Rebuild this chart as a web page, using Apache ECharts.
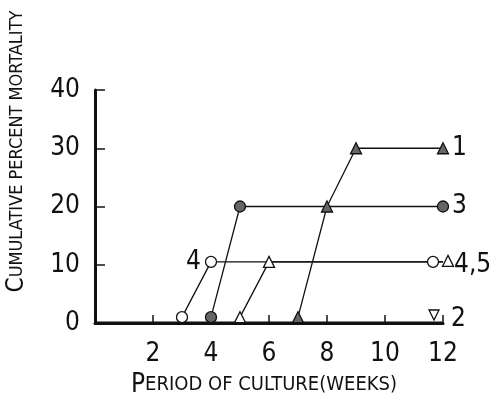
<!DOCTYPE html>
<html>
<head>
<meta charset="utf-8">
<script src="https://cdn.jsdelivr.net/npm/echarts@6/dist/echarts.min.js"></script>
<style>
html,body{margin:0;padding:0;background:#fff;}
#c{width:495px;height:393px;}
</style>
</head>
<body>
<div id="c"></div>
<script>
// ---- data ----
var xTicks = [2, 4, 6, 8, 10, 12];
var yTicks = [0, 10, 20, 30, 40];
var series1 = [[7, 1], [8, 20], [9, 30], [12, 30]];   // filled triangle
var series2 = [[0, 0], [12, 0]];                      // open down-triangle
var series3 = [[4, 1], [5, 20], [12, 20]];            // filled circle
var series4 = [[3, 1], [4, 10.5], [12, 10.5]];        // open circle
var series5 = [[5, 1], [6, 10.5], [12, 10.5]];        // open triangle
var seriesNames = ['1', '2', '3', '4', '5'];

var FONT = "'Liberation Sans Narrow','DejaVu Sans Condensed','DejaVu Sans',sans-serif";

var chart = echarts.init(document.getElementById('c'), null, {renderer: 'canvas'});

function lineSeries(name, data, symbol, fill, extra) {
  var s = {
    name: name,
    type: 'line',
    data: data,
    symbol: symbol,
    symbolSize: 11,
    showAllSymbol: true,
    lineStyle: {color: '#111', width: 1.3},
    itemStyle: {color: fill, borderColor: '#111', borderWidth: 1.3},
    emphasis: {disabled: true},
    animation: false,
    z: 3
  };
  for (var k in extra) s[k] = extra[k];
  return s;
}

var lastIdx = function (arr) { return arr.length - 1; };

var option = {
  animation: false,
  grid: {left: 95, right: 52, top: 90, bottom: 70, containLabel: false, outerBoundsMode: 'none'},
  xAxis: {
    type: 'value',
    min: 0, max: 12, interval: 2,
    axisLine: {show: true, onZero: false, lineStyle: {color: '#111', width: 3}},
    axisTick: {show: true, inside: true, length: 8, lineStyle: {color: '#111', width: 1.5}},
    axisLabel: {
      color: '#111', fontFamily: FONT, fontSize: 26, margin: 18,
      formatter: function (v) { return xTicks.indexOf(v) >= 0 ? String(v) : ''; }
    },
    splitLine: {show: false},
    name: '{a|P}{b|ERIOD OF CULTURE(WEEKS)}',
    nameLocation: 'middle',
    nameGap: 48,
    nameTextStyle: {
      padding: [0, 10, 0, 0],
      rich: {
        a: {fontFamily: FONT, fontSize: 26, color: '#111'},
        b: {fontFamily: FONT, fontSize: 20, color: '#111'}
      }
    }
  },
  yAxis: {
    type: 'value',
    min: 0, max: 40, interval: 10,
    axisLine: {show: true, lineStyle: {color: '#111', width: 3}},
    axisTick: {show: true, inside: true, length: 10, lineStyle: {color: '#111', width: 1.5}},
    axisLabel: {
      color: '#111', fontFamily: FONT, fontSize: 26, margin: 15,
      formatter: function (v) { return yTicks.indexOf(v) >= 0 ? String(v) : ''; }
    },
    splitLine: {show: false},
    name: '{a|C}{b|UMULATIVE PERCENT MORTALITY}',
    nameLocation: 'middle',
    nameRotate: 90,
    nameGap: 66,
    nameTextStyle: {
      padding: [0, 0, 0, 110],
      rich: {
        a: {fontFamily: FONT, fontSize: 24, color: '#111'},
        b: {fontFamily: FONT, fontSize: 18, color: '#111'}
      }
    }
  },
  series: [
    lineSeries(seriesNames[1], series2, function (v, p) { return p.dataIndex === lastIdx(series2) ? 'triangle' : 'none'; }, '#fff', {
      symbolRotate: 180,
      symbolSize: 10,
      symbolOffset: [-9, -8],
      lineStyle: {color: '#111', width: 3},
      endLabel: {show: true, formatter: seriesNames[1], fontFamily: FONT, fontSize: 26, color: '#111', distance: 8, offset: [0, -4]}
    }),
    lineSeries(seriesNames[0], series1, 'triangle', '#666', {
      endLabel: {show: true, formatter: seriesNames[0], fontFamily: FONT, fontSize: 26, color: '#111', distance: 9}
    }),
    lineSeries(seriesNames[2], series3, 'circle', '#666', {
      endLabel: {show: true, formatter: seriesNames[2], fontFamily: FONT, fontSize: 26, color: '#111', distance: 9}
    }),
    lineSeries(seriesNames[3], series4.map(function (d, i) {
      var item = {value: d};
      if (i === 1) item.label = {show: true, position: 'left', formatter: seriesNames[3], fontFamily: FONT, fontSize: 26, color: '#111', distance: 4};
      if (i === lastIdx(series4)) item.symbolOffset = [-10, 0];
      return item;
    }), 'circle', '#fff', {}),
    lineSeries(seriesNames[4], series5.map(function (d, i) {
      var item = {value: d};
      if (i === lastIdx(series5)) item.symbolOffset = [5, -1];
      return item;
    }), 'triangle', '#fff', {
      endLabel: {show: true, formatter: seriesNames[3] + ',' + seriesNames[4], fontFamily: FONT, fontSize: 26, color: '#111', distance: 11, offset: [0, 3]}
    })
  ]
};
chart.setOption(option);
</script>
</body>
</html>
